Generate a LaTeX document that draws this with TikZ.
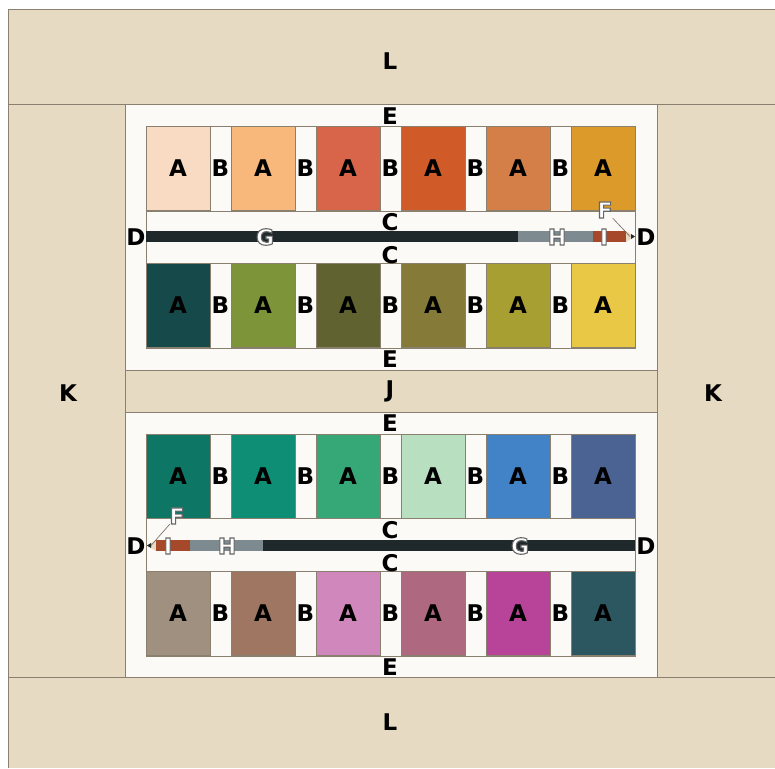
\documentclass[tikz,border=0pt]{standalone}
\usepackage{fontspec}
\setsansfont{DejaVu Sans}
\usetikzlibrary{positioning}
\definecolor{sand}{HTML}{E6DBC2}
\definecolor{paper}{HTML}{FBFAF7}
\definecolor{edge}{HTML}{8A8070}
\definecolor{lead}{HTML}{1F292B}
\definecolor{ferrule}{HTML}{7D8A90}
\definecolor{wood}{HTML}{A5492A}
\definecolor{cone}{HTML}{E9D9C2}
% swatch colours, row by row
\definecolor{sa1}{HTML}{F8DBC2}\definecolor{sa2}{HTML}{F8B77B}\definecolor{sa3}{HTML}{D8644A}
\definecolor{sa4}{HTML}{D05A28}\definecolor{sa5}{HTML}{D47F48}\definecolor{sa6}{HTML}{DC9A2A}
\definecolor{sb1}{HTML}{164A4A}\definecolor{sb2}{HTML}{7E9439}\definecolor{sb3}{HTML}{606330}
\definecolor{sb4}{HTML}{857A38}\definecolor{sb5}{HTML}{A89F32}\definecolor{sb6}{HTML}{E8C844}
\definecolor{sc1}{HTML}{0E7664}\definecolor{sc2}{HTML}{0E8E74}\definecolor{sc3}{HTML}{36A878}
\definecolor{sc4}{HTML}{B8DFC0}\definecolor{sc5}{HTML}{4283C8}\definecolor{sc6}{HTML}{4A6392}
\definecolor{sd1}{HTML}{A09080}\definecolor{sd2}{HTML}{9E7662}\definecolor{sd3}{HTML}{D088BC}
\definecolor{sd4}{HTML}{AE6880}\definecolor{sd5}{HTML}{B8449A}\definecolor{sd6}{HTML}{2C5660}
% white letters with a grey outline (fill and stroke render mode)
\newcommand\outlined[1]{\special{pdf:literal direct 2 Tr 1.1 w 0.40 0.40 0.40 RG}#1\special{pdf:literal direct 0 Tr}}
\begin{document}
\begin{tikzpicture}[
  x=1pt, y=-1pt,
  lbl/.style={font=\sffamily\bfseries\fontsize{23}{23}\selectfont, inner sep=0pt},
  swatch/.style={rectangle, draw=edge, line width=0.6pt, minimum width=64pt, minimum height=84pt, lbl},
  hollow/.style={font=\sffamily\bfseries\fontsize{22}{22}\selectfont, inner sep=0pt, text=white},
  strip/.style={fill=paper, draw=edge, line width=0.6pt},
  rule/.style={draw=edge, line width=0.6pt},
  leader/.style={draw=edge!80!black, line width=0.6pt},
]
\useasboundingbox (0,0) rectangle (775,768);
\fill[white] (0,0) rectangle (775,768);
\fill[sand] (8,10) rectangle (775,768);
\draw[edge, line width=1pt] (8,768) -- (8,10) -- (775,10);
\draw[edge, line width=1pt] (8,104) -- (775,104) (8,677) -- (775,677);

% the two panels and the band between them
\draw[strip] (125,104) rectangle (657,370);
\draw[strip] (125,412) rectangle (657,677);
\draw[rule, fill=sand] (125,370) rectangle (657,412);
\draw[rule] (146,126) rectangle (635,348) (146,211) -- (635,211) (146,263) -- (635,263);
\draw[rule] (146,434) rectangle (635,656) (146,518) -- (635,518) (146,571) -- (635,571);

% swatches
\foreach \row/\yy in {a/168, b/305.5, c/476, d/613.5} {
  \foreach \i in {1,...,6}
    \node[swatch, fill=s\row\i] (sw\row\i) at ({146+32+85*(\i-1)},\yy) {A};
  \foreach \i in {1,...,5}
    \node[lbl] (gap\row\i) at ({220.5+85*(\i-1)},\yy) {B};
}

% pencils
\fill[lead] (146,231) rectangle (518,242);
\fill[ferrule] (518,231) rectangle (593,242);
\fill[wood] (593,231) rectangle (626,242);
\fill[cone] (626,231) -- (635,236.5) -- (626,242) -- cycle;
\fill[lead] (631,234) -- (635,236.5) -- (631,239) -- cycle;
\coordinate (tipT) at (630,236.5);

\fill[cone] (156,540) -- (147,545.5) -- (156,551) -- cycle;
\fill[lead] (151,543) -- (147,545.5) -- (151,548) -- cycle;
\fill[wood] (156,540) rectangle (190,551);
\fill[ferrule] (190,540) rectangle (263,551);
\fill[lead] (263,540) rectangle (635,551);
\coordinate (tipB) at (151,545.5);

% strip labels
\node[lbl] (lTop) at (390,61) {L};
\node[lbl] (lBot) at (390,722) {L};
\node[lbl] (kLeft) at (68,393) {K};
\node[lbl] (kRight) at (713,393) {K};
\node[lbl] (j) at (390,391) {J};
\node[lbl] (e1) at (390,116) {E};
\node[lbl] (e2) at (390,359) {E};
\node[lbl] (e3) at (390,423) {E};
\node[lbl] (e4) at (390,667) {E};
\node[lbl] (c1) at (390,222) {C};
\node[lbl] (c2) at (390,255) {C};
\node[lbl] (c3) at (390,530) {C};
\node[lbl] (c4) at (390,563) {C};
\node[lbl] (d1) at (136,237) {D};
\node[lbl] (d2) at (646,237) {D};
\node[lbl] (d3) at (136,546) {D};
\node[lbl] (d4) at (646,546) {D};

% pencil part labels
\node[hollow] (gT) at (265,237) {\outlined{G}};
\node[hollow] (hT) at (557,237) {\outlined{H}};
\node[hollow] (iT) at (604,237) {\outlined{I}};
\node[hollow] (fT) at (605,210) {\outlined{F}};
\node[hollow] (gB) at (520,546) {\outlined{G}};
\node[hollow] (hB) at (227,546) {\outlined{H}};
\node[hollow] (iB) at (168,546) {\outlined{I}};
\node[hollow] (fB) at (177,516) {\outlined{F}};
\draw[leader] (fT) -- (tipT);
\draw[leader] (fB) -- (tipB);
\end{tikzpicture}
\end{document}
